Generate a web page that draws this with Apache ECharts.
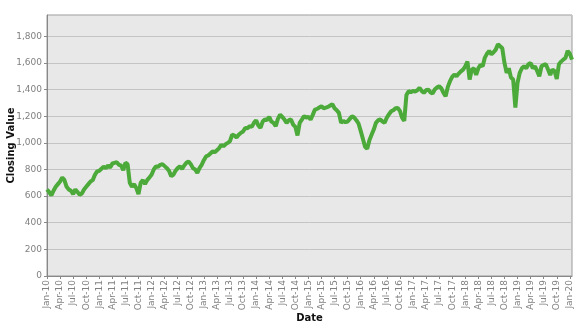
<!DOCTYPE html>
<html>
<head>
<meta charset="utf-8">
<script src="https://cdn.jsdelivr.net/npm/echarts@6/dist/echarts.min.js"></script>
<style>html,body{margin:0;padding:0;background:#fff}#c{width:587px;height:336px}</style>
</head>
<body>
<div id="c"></div>
<script>
// Semi-monthly samples (1st and 15th of each month), Jan 2010 – mid Jan 2020
var monthNames = ['Jan','Feb','Mar','Apr','May','Jun','Jul','Aug','Sep','Oct','Nov','Dec'];
var startYear = 2010;
var yTicks = [0,200,400,600,800,1000,1200,1400,1600,1800];
var closing2010 = [650,630,605,640,670,690,710,740,720,670,650,640,615,650,630,610,620,650,670,690,710,720,760,785];
var closing2011 = [790,805,820,810,830,815,845,850,855,835,830,795,850,840,700,670,690,660,615,700,720,690,720,740];
var closing2012 = [760,800,823,820,835,840,825,810,790,750,760,790,810,823,805,830,850,860,840,810,800,775,810,835];
var closing2013 = [870,898,905,920,935,930,945,960,985,975,990,1000,1012,1062,1055,1040,1060,1075,1085,1112,1110,1125,1120,1150];
var closing2014 = [1170,1130,1112,1160,1175,1170,1195,1160,1150,1125,1180,1212,1195,1175,1150,1170,1175,1137,1120,1055,1150,1175,1200,1190];
var closing2015 = [1195,1175,1210,1250,1255,1265,1275,1260,1265,1270,1280,1290,1260,1245,1225,1150,1165,1155,1160,1180,1200,1190,1170,1145];
var closing2016 = [1090,1030,970,955,1020,1060,1100,1150,1170,1175,1160,1150,1190,1215,1237,1245,1260,1262,1240,1190,1165,1360,1388,1380];
var closing2017 = [1390,1385,1395,1413,1390,1375,1395,1400,1380,1370,1400,1415,1425,1410,1375,1350,1420,1463,1495,1513,1500,1520,1537,1550];
var closing2018 = [1575,1610,1475,1550,1560,1510,1560,1587,1575,1640,1670,1690,1665,1680,1700,1740,1725,1710,1600,1525,1560,1490,1475,1265];
var closing2019 = [1450,1525,1560,1575,1560,1590,1600,1560,1575,1540,1500,1575,1585,1590,1550,1510,1550,1540,1480,1590,1610,1625,1637,1690];
var closing2020 = [1670,1625];

var values = [].concat(closing2010, closing2011, closing2012, closing2013, closing2014,
  closing2015, closing2016, closing2017, closing2018, closing2019, closing2020);
var categories = [];
for (var i = 0; i < values.length; i++) {
  var m = Math.floor(i / 2);
  var yr = startYear + Math.floor(m / 12);
  var mo = m % 12;
  categories.push(i % 2 === 0 ? monthNames[mo] + '-' + String(yr).slice(2) : '');
}
function isQuarter(idx) { return idx % 6 === 0; }

var chart = echarts.init(document.getElementById('c'), null, {renderer: 'canvas'});
chart.setOption({
  animation: false,
  backgroundColor: '#ffffff',
  textStyle: {fontFamily: 'DejaVu Sans, Verdana, sans-serif'},
  grid: {
    left: 47, right: 15, top: 15, bottom: 60,
    containLabel: false,
    outerBoundsMode: 'none',
    show: true, backgroundColor: '#e8e8e8', borderColor: '#9a9a9a', borderWidth: 1
  },
  xAxis: {
    type: 'category',
    data: categories,
    boundaryGap: false,
    name: 'Date',
    nameLocation: 'middle',
    nameGap: 37,
    nameMoveOverlap: false,
    nameTextStyle: {fontWeight: 'bold', fontSize: 10, color: '#111', fontFamily: 'DejaVu Sans, Verdana, sans-serif'},
    axisLine: {show: true, lineStyle: {color: '#888'}},
    axisTick: {show: true, length: 3, interval: function (idx) { return isQuarter(idx); }, lineStyle: {color: '#888'}},
    axisLabel: {
      interval: function (idx) { return isQuarter(idx); },
      rotate: 90, fontSize: 9, color: '#808080', margin: 4,
      fontFamily: 'DejaVu Sans, Verdana, sans-serif'
    },
    splitLine: {show: false}
  },
  yAxis: {
    type: 'value',
    min: 0, max: 1960, interval: 200,
    name: 'Closing Value',
    nameLocation: 'middle',
    nameGap: 31,
    nameMoveOverlap: false,
    nameTextStyle: {fontWeight: 'bold', fontSize: 10, color: '#111', fontFamily: 'DejaVu Sans, Verdana, sans-serif'},
    axisLine: {show: true, lineStyle: {color: '#888'}},
    axisTick: {show: true, length: 3, lineStyle: {color: '#888'}},
    axisLabel: {
      fontSize: 9, color: '#808080', margin: 5, showMaxLabel: false,
      fontFamily: 'DejaVu Sans, Verdana, sans-serif',
      formatter: function (v) { return yTicks.indexOf(v) >= 0 ? v.toLocaleString('en-US') : ''; }
    },
    splitLine: {show: true, lineStyle: {color: '#c4c4c4', width: 1}}
  },
  series: [{
    type: 'line',
    data: values,
    showSymbol: false,
    symbol: 'none',
    lineStyle: {color: '#4caa3a', width: 4},
    itemStyle: {color: '#4caa3a'}
  }]
});
</script>
</body>
</html>
